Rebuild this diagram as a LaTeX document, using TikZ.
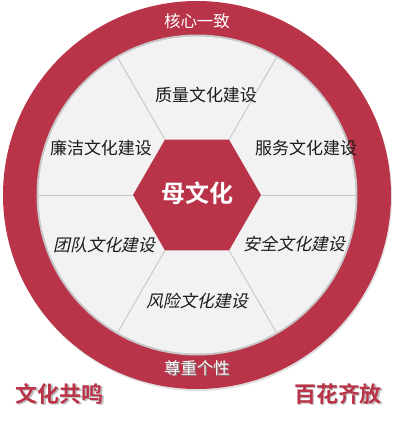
\documentclass[tikz,border=0pt]{standalone}
\usepackage{fontspec}
\usetikzlibrary{calc}
\newfontfamily\cjk{Noto Sans CJK SC}
\newfontfamily\cjkit[FakeSlant=0.22]{Noto Sans CJK SC}
\newfontfamily\cjkbold{Noto Sans CJK SC Bold}
\definecolor{ringred}{HTML}{B93449}
\definecolor{panel}{HTML}{F2F2F2}
\definecolor{divider}{HTML}{C6C6C6}
\definecolor{txt}{HTML}{1A1A1A}
\tikzset{
  sector/.style={font=\cjk\fontsize{17}{17}\selectfont, text=txt, inner sep=0pt},
  sectorit/.style={font=\cjkit\fontsize{17}{17}\selectfont, text=txt, inner sep=0pt},
  ringtext/.style={font=\cjk\fontsize{16.5}{16.5}\selectfont, text=white, inner sep=0pt},
  corelabel/.style={font=\cjkbold\fontsize{24}{24}\selectfont, text=white, inner sep=0pt},
  sidelabel/.style={font=\cjkbold\fontsize{22}{22}\selectfont, text=ringred, inner sep=0pt},
  sideshadow/.style={font=\cjkbold\fontsize{22}{22}\selectfont, text=black!25, inner sep=0pt},
  divline/.style={draw=divider, line width=0.9pt},
}
\begin{document}
\begin{tikzpicture}[x=1pt,y=-1pt]
\useasboundingbox (0,0) rectangle (400,424);
\coordinate (O) at (197,195);
% outer ring
\fill[black!12] ($(O)+(1,2)$) circle[radius=194];
\fill[ringred] (O) circle[radius=194];
% inner panel with soft edge
\fill[black!22] (O) circle[radius=160.5];
\fill[panel] (O) circle[radius=158.5];
% hexagon vertices and circle points
\foreach \i/\a in {0/0,1/60,2/120,3/180,4/240,5/300}{
  \coordinate (h\i) at ($(O)+(\a:64)$);
  \coordinate (c\i) at ($(O)+(\a:158.5)$);
}
\foreach \i in {0,...,5}{ \draw[divline] (h\i) -- (c\i); }
\fill[ringred] (h0) -- (h1) -- (h2) -- (h3) -- (h4) -- (h5) -- cycle;
% texts
\node[corelabel] (core) at (197,193) {母文化};
\node[ringtext] (top) at (197,21) {核心一致};
\node[ringtext, text=black!50] (bottomS) at (198,369) {尊重个性};
\node[ringtext] (bottom) at (197,368) {尊重个性};
\node[sector] (s1) at (206,95) {质量文化建设};
\node[sector] (s2) at (306,148) {服务文化建设};
\node[sector] (s6) at (101,148) {廉洁文化建设};
\node[sectorit] (s3) at (294,244) {安全文化建设};
\node[sectorit] (s5) at (104,245) {团队文化建设};
\node[sectorit] (s4) at (197,301) {风险文化建设};
\node[sideshadow] (leftS) at (61.5,395.5) {文化共鸣};
\node[sidelabel] (left) at (60,394) {文化共鸣};
\node[sideshadow] (rightS) at (339.5,395.5) {百花齐放};
\node[sidelabel] (right) at (338,394) {百花齐放};
\end{tikzpicture}
\end{document}
